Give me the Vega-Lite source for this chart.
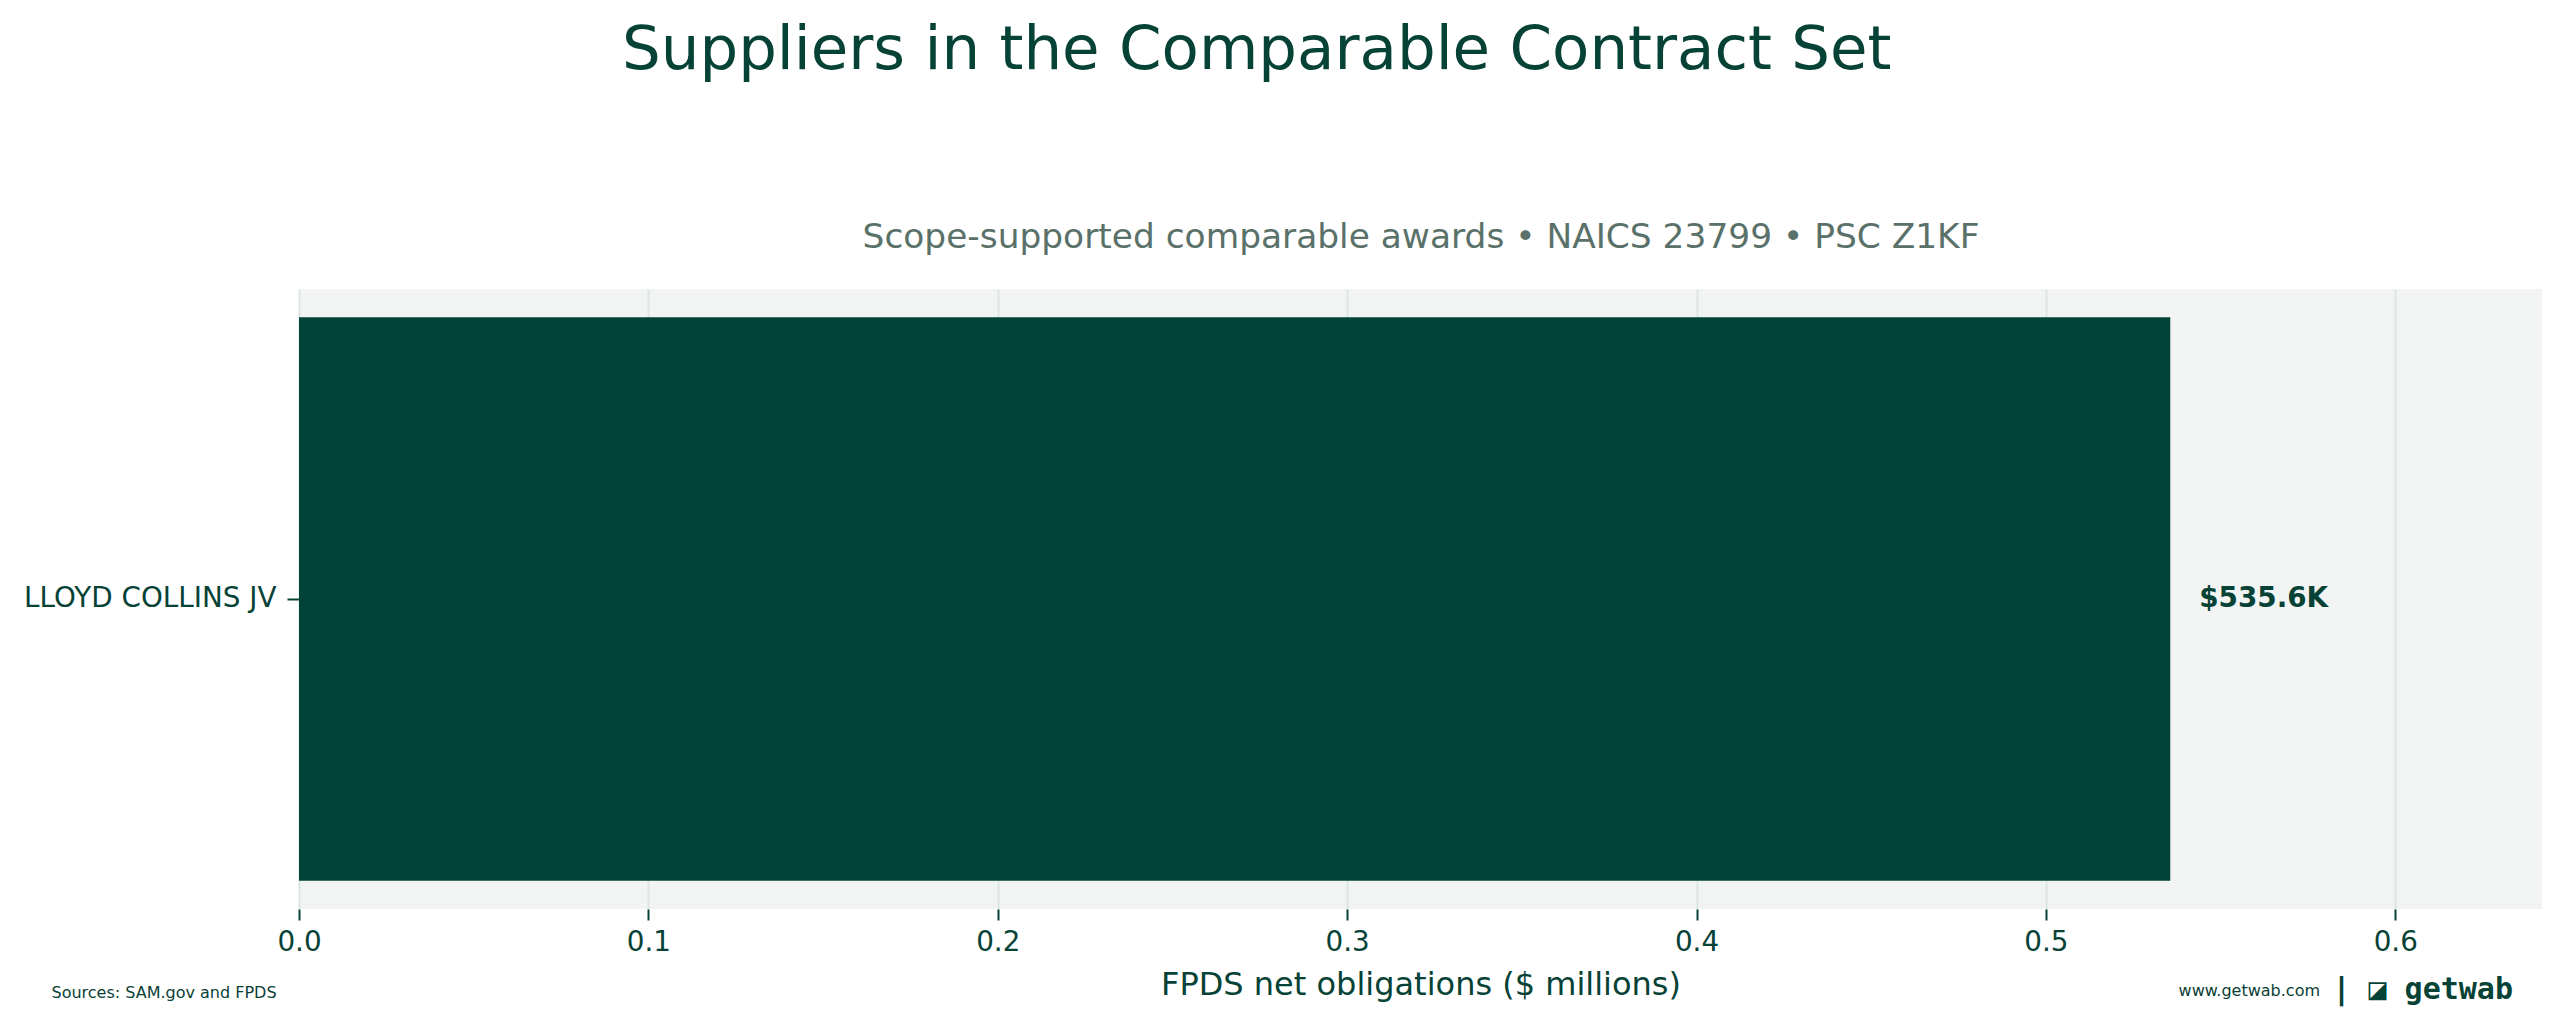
{
  "$schema": "https://vega.github.io/schema/vega-lite/v6.json",
  "autosize": {"type": "pad"},
  "padding": {"left": 23, "top": 20, "right": 22, "bottom": 10},
  "background": "#ffffff",
  "config": {
    "font": "DejaVu Sans",
    "view": {"stroke": null}
  },
  "title": {
    "text": "Suppliers in the Comparable Contract Set",
    "orient": "top",
    "anchor": "middle",
    "frame": "bounds",
    "dx": -26,
    "baseline": "alphabetic",
    "offset": 89,
    "fontSize": 61,
    "fontWeight": "normal",
    "color": "#064236",
    "font": "DejaVu Sans"
  },
  "vconcat": [
    {
      "title": {
        "text": "Sources: SAM.gov and FPDS",
        "orient": "bottom",
        "anchor": "start",
        "frame": "bounds",
        "dx": 28,
        "baseline": "alphabetic",
        "offset": -7,
        "fontSize": 16,
        "fontWeight": "normal",
        "color": "#0a4035",
        "font": "DejaVu Sans"
      },
      "vconcat": [
        {
          "title": {
            "text": "www.getwab.com",
            "orient": "bottom",
            "anchor": "end",
            "frame": "bounds",
            "dx": -222,
            "baseline": "alphabetic",
            "offset": -9,
            "fontSize": 16,
            "fontWeight": "normal",
            "color": "#0a4035",
            "font": "DejaVu Sans"
          },
          "vconcat": [
            {
              "width": 2243,
              "height": 620,
              "title": {
                "text": "| ◪ getwab",
                "orient": "bottom",
                "anchor": "end",
                "frame": "group",
                "dx": -29,
                "baseline": "alphabetic",
                "offset": -2,
                "fontSize": 30,
                "fontWeight": "bold",
                "color": "#064236",
                "font": "DejaVu Sans Mono"
              },
              "data": {
                "values": [
                  {"supplier": "LLOYD COLLINS JV", "value": 0.5356, "label": "$535.6K"}
                ]
              },
              "view": {"fill": "#f1f4f3", "stroke": null},
              "layer": [
                {
                  "mark": {"type": "bar", "color": "#024338"},
                  "encoding": {
                    "y": {
                      "field": "supplier",
                      "type": "nominal",
                      "scale": {"paddingInner": 0, "paddingOuter": 0.05},
                      "axis": {
                        "title": null,
                        "domain": false,
                        "grid": false,
                        "ticks": true,
                        "tickSize": 12,
                        "tickWidth": 2,
                        "tickColor": "#064236",
                        "labelFontSize": 27.8,
                        "labelColor": "#064236",
                        "labelPadding": 11,
                        "labelLimit": 600
                      }
                    },
                    "x": {
                      "field": "value",
                      "type": "quantitative",
                      "scale": {"domain": [0, 0.642], "nice": false, "zero": true},
                      "axis": {
                        "orient": "bottom",
                        "title": "FPDS net obligations ($ millions)",
                        "values": [0, 0.1, 0.2, 0.3, 0.4, 0.5, 0.6],
                        "format": ".1f",
                        "domain": false,
                        "grid": true,
                        "gridColor": "#dde5e2",
                        "gridWidth": 2,
                        "ticks": true,
                        "tickSize": 11,
                        "tickWidth": 2,
                        "tickColor": "#064236",
                        "labelFontSize": 27.8,
                        "labelColor": "#064236",
                        "labelPadding": 8,
                        "labelFlush": false,
                        "titleFontSize": 32,
                        "titleFontWeight": "normal",
                        "titleColor": "#064236",
                        "titlePadding": 14
                      }
                    }
                  }
                },
                {
                  "mark": {
                    "type": "text",
                    "align": "left",
                    "baseline": "middle",
                    "dx": 29,
                    "fontSize": 27.8,
                    "fontWeight": "bold",
                    "color": "#064236"
                  },
                  "encoding": {
                    "y": {"field": "supplier", "type": "nominal"},
                    "x": {
                      "field": "value",
                      "type": "quantitative",
                      "axis": {
                        "orient": "top",
                        "title": "Scope-supported comparable awards • NAICS 23799 • PSC Z1KF",
                        "labels": false,
                        "ticks": false,
                        "domain": false,
                        "grid": false,
                        "titleFontSize": 34.4,
                        "titleFontWeight": "normal",
                        "titleColor": "#5a7169",
                        "titlePadding": 35
                      }
                    },
                    "text": {"field": "label"}
                  }
                }
              ],
              "resolve": {"axis": {"x": "independent"}}
            }
          ]
        }
      ]
    }
  ]
}
